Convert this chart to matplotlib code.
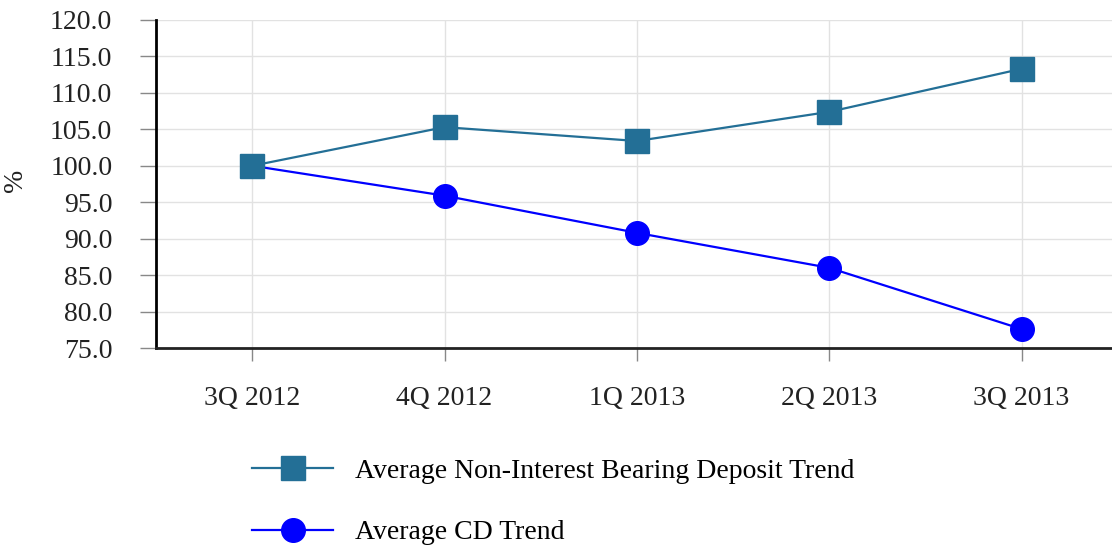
import matplotlib
matplotlib.use("Agg")
import matplotlib.pyplot as plt

categories = ["3Q 2012", "4Q 2012", "1Q 2013", "2Q 2013", "3Q 2013"]
non_interest = [100.0, 105.3, 103.4, 107.4, 113.3]
cd_trend = [100.0, 95.9, 90.8, 86.0, 77.6]
yticks = [75.0, 80.0, 85.0, 90.0, 95.0, 100.0, 105.0, 110.0, 115.0, 120.0]
labels = ["Average Non-Interest Bearing Deposit Trend", "Average CD Trend"]

plt.rcParams['font.family'] = ['Liberation Serif', 'DejaVu Serif']

fig = plt.figure(figsize=(11.12, 5.46), dpi=100)
ax = fig.add_axes([0.1403, 0.3626, 0.8597, 0.6008])

x = list(range(len(categories)))
l2, = ax.plot(x, cd_trend, color="#0000ff", lw=1.6, marker="o", markersize=17,
              markeredgecolor="#0000ff", label=labels[1], zorder=3)
l1, = ax.plot(x, non_interest, color="#236f96", lw=1.6, marker="s", markersize=17,
              markeredgecolor="#236f96", label=labels[0], zorder=4)

ax.set_xlim(-0.5, 4.47)
ax.set_ylim(75, 120)
ax.set_yticks(yticks)
ax.set_yticklabels([f"{v:.1f}" for v in yticks])
ax.set_xticks(x)
ax.set_xticklabels(categories)
ax.grid(True, color="#e2e2e2", lw=1.0, zorder=0)
ax.set_axisbelow(True)

for s in ["top", "right"]:
    ax.spines[s].set_visible(False)
ax.spines["left"].set_color("black")
ax.spines["left"].set_linewidth(2)
ax.spines["bottom"].set_color("#222222")
ax.spines["bottom"].set_linewidth(2)
ax.tick_params(axis="y", length=11.5, width=1, color="#888888", labelsize=20, pad=20, labelcolor="#222222")
ax.tick_params(axis="x", length=9, width=1, color="#888888", labelsize=20, pad=18, labelcolor="#222222")
ax.set_ylabel("%", fontsize=20, color="#222222")
ax.yaxis.set_label_coords(-0.134, 0.512)

fig.legend(handles=[l1, l2], labels=labels, loc="upper left",
           bbox_to_anchor=(0.217, 0.181), frameon=False, fontsize=20,
           handlelength=2.9, handletextpad=0.8, labelspacing=1.3, borderaxespad=0)

fig.savefig("out.png", dpi=100)
